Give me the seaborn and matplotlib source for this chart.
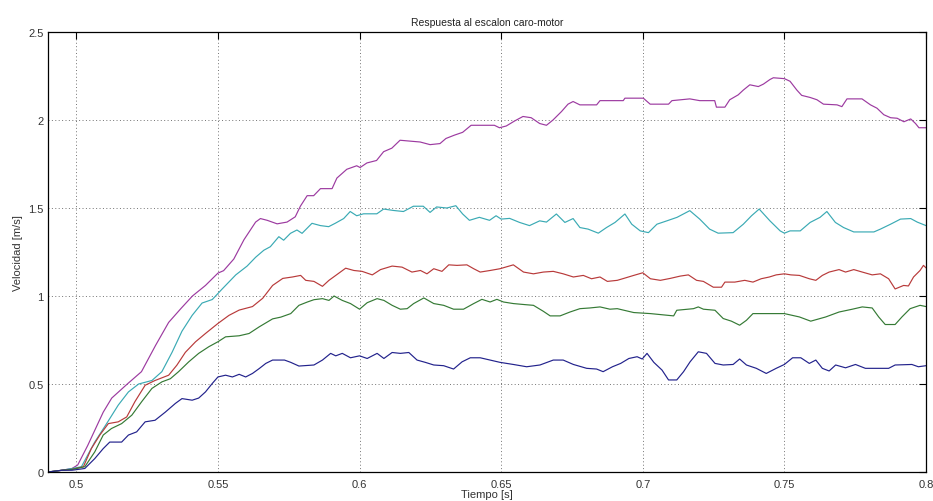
import numpy as np
import pandas as pd
import matplotlib
matplotlib.use("Agg")
import matplotlib.pyplot as plt
import seaborn as sns

# Step responses of the cart-motor for five input levels (time in s, speed in m/s)
t_m = [0.490, 0.495, 0.4985, 0.5005, 0.504, 0.5095, 0.5125, 0.518, 0.523, 0.528, 0.5326, 0.537,
       0.541, 0.5456, 0.550, 0.552, 0.5556, 0.5592, 0.5633, 0.565, 0.5674, 0.5709, 0.5744, 0.5773,
       0.5791, 0.5815, 0.5838, 0.5862, 0.5903, 0.592, 0.5955, 0.599, 0.6002, 0.6026, 0.606, 0.6085,
       0.6114, 0.6143, 0.6178, 0.6214, 0.6249, 0.6284, 0.6305, 0.6335, 0.6364, 0.6394, 0.6435,
       0.6476, 0.6494, 0.6518, 0.6547, 0.6577, 0.6606, 0.6636, 0.666, 0.6683, 0.6713, 0.6736,
       0.6754, 0.6778, 0.6837, 0.6849, 0.6931, 0.6937, 0.7002, 0.7026, 0.7091, 0.7103, 0.7166,
       0.7201, 0.7254, 0.726, 0.729, 0.7307, 0.7337, 0.7355, 0.7378, 0.7408, 0.7426, 0.7449,
       0.7461, 0.750, 0.752, 0.7544, 0.7561, 0.7591, 0.7615, 0.7638, 0.7686, 0.7703, 0.7721,
       0.7774, 0.7804, 0.7827, 0.7851, 0.7875, 0.7898, 0.7922, 0.7946, 0.7963, 0.7975, 0.800]
v_m = [0.00, 0.01, 0.02, 0.04, 0.15, 0.34, 0.42, 0.50, 0.57, 0.72, 0.85, 0.93,
       1.00, 1.06, 1.13, 1.144, 1.21, 1.32, 1.42, 1.44, 1.43, 1.41, 1.42, 1.45,
       1.51, 1.57, 1.57, 1.61, 1.61, 1.67, 1.72, 1.74, 1.73, 1.756, 1.77, 1.82,
       1.84, 1.885, 1.88, 1.875, 1.86, 1.866, 1.895, 1.914, 1.93, 1.97, 1.97,
       1.97, 1.956, 1.966, 1.994, 2.02, 2.013, 1.98, 1.97, 2.0, 2.048, 2.09,
       2.105, 2.086, 2.086, 2.11, 2.11, 2.124, 2.124, 2.09, 2.09, 2.11, 2.12,
       2.11, 2.11, 2.073, 2.073, 2.115, 2.143, 2.17, 2.2, 2.19, 2.204, 2.23,
       2.24, 2.235, 2.22, 2.17, 2.14, 2.128, 2.115, 2.09, 2.086, 2.076, 2.12,
       2.12, 2.086, 2.067, 2.03, 2.013, 2.01, 1.99, 2.006, 1.98, 1.956, 1.956]

t_c = [0.490, 0.495, 0.4985, 0.5018, 0.5065, 0.5107, 0.5148, 0.5184, 0.522, 0.5267, 0.5302,
       0.5338, 0.5373, 0.5409, 0.5444, 0.548, 0.5515, 0.5563, 0.5603, 0.5633, 0.5662, 0.5685,
       0.5715, 0.5732, 0.5756, 0.5779, 0.5797, 0.5832, 0.5862, 0.5891, 0.5914, 0.5944, 0.5967,
       0.599, 0.6014, 0.6061, 0.6085, 0.612, 0.6155, 0.619, 0.6225, 0.6249, 0.6272, 0.6308,
       0.634, 0.6364, 0.6388, 0.6423, 0.6459, 0.6482, 0.650, 0.653, 0.6565, 0.660, 0.6636,
       0.666, 0.6695, 0.6725, 0.6754, 0.6778, 0.6807, 0.6843, 0.6872, 0.6902, 0.6937, 0.6961,
       0.6991, 0.702, 0.705, 0.7085, 0.7121, 0.7166, 0.7201, 0.7236, 0.7266, 0.7319, 0.7355,
       0.7384, 0.7411, 0.7449, 0.7485, 0.750, 0.752, 0.7556, 0.7591, 0.7626, 0.765, 0.768,
       0.7709, 0.7745, 0.7816, 0.7839, 0.7875, 0.791, 0.7946, 0.7969, 0.800]
v_c = [0.00, 0.01, 0.02, 0.03, 0.17, 0.275, 0.38, 0.455, 0.50, 0.52, 0.57,
       0.68, 0.80, 0.89, 0.96, 0.98, 1.04, 1.12, 1.17, 1.22, 1.26, 1.28,
       1.337, 1.317, 1.356, 1.375, 1.356, 1.413, 1.40, 1.394, 1.413, 1.44, 1.48,
       1.456, 1.467, 1.467, 1.494, 1.486, 1.48, 1.51, 1.51, 1.475, 1.506, 1.50,
       1.513, 1.466, 1.43, 1.447, 1.43, 1.456, 1.437, 1.441, 1.418, 1.40, 1.427,
       1.42, 1.466, 1.418, 1.44, 1.389, 1.38, 1.357, 1.389, 1.418, 1.466, 1.408,
       1.37, 1.36, 1.408, 1.427, 1.447, 1.485, 1.437, 1.38, 1.357, 1.36, 1.408,
       1.456, 1.494, 1.427, 1.37, 1.357, 1.37, 1.37, 1.418, 1.447, 1.48, 1.418,
       1.389, 1.364, 1.364, 1.38, 1.408, 1.437, 1.44, 1.42, 1.40]

t_r = [0.490, 0.495, 0.4985, 0.5025, 0.5053, 0.5083, 0.5113, 0.5148, 0.5178, 0.5207, 0.5243,
       0.5278, 0.5326, 0.5355, 0.5385, 0.5421, 0.5456, 0.550, 0.5539, 0.5575, 0.5622, 0.5658,
       0.5693, 0.5729, 0.5763, 0.5792, 0.581, 0.5839, 0.5869, 0.5892, 0.5916, 0.5951, 0.598,
       0.6009, 0.6045, 0.6074, 0.6115, 0.615, 0.6185, 0.6215, 0.6238, 0.6262, 0.6291, 0.6315,
       0.6344, 0.6379, 0.6403, 0.6426, 0.6461, 0.6496, 0.6543, 0.6579, 0.6614, 0.6649, 0.6684,
       0.6719, 0.6755, 0.679, 0.6819, 0.6849, 0.6875, 0.691, 0.6933, 0.6968, 0.700, 0.7027,
       0.7062, 0.7097, 0.7132, 0.7161, 0.719, 0.7214, 0.7249, 0.7278, 0.729, 0.7325, 0.736,
       0.7389, 0.7418, 0.7447, 0.7471, 0.750, 0.7523, 0.7553, 0.7588, 0.7611, 0.7634, 0.7658,
       0.7693, 0.7716, 0.7745, 0.7775, 0.781, 0.7839, 0.7868, 0.7891, 0.7921, 0.7938, 0.7956,
       0.7979, 0.7991, 0.800]
v_r = [0.00, 0.01, 0.015, 0.03, 0.133, 0.21, 0.275, 0.285, 0.313, 0.40, 0.493,
       0.52, 0.55, 0.607, 0.68, 0.74, 0.787, 0.844, 0.89, 0.92, 0.94, 0.987,
       1.06, 1.10, 1.108, 1.117, 1.089, 1.083, 1.055, 1.089, 1.117, 1.158, 1.145,
       1.14, 1.12, 1.15, 1.17, 1.164, 1.136, 1.145, 1.126, 1.155, 1.14, 1.177,
       1.174, 1.177, 1.155, 1.136, 1.145, 1.155, 1.177, 1.136, 1.126, 1.136, 1.14,
       1.126, 1.108, 1.117, 1.098, 1.108, 1.083, 1.089, 1.10, 1.117, 1.132, 1.098,
       1.089, 1.10, 1.113, 1.12, 1.089, 1.083, 1.05, 1.05, 1.079, 1.079, 1.089,
       1.079, 1.098, 1.108, 1.12, 1.126, 1.12, 1.117, 1.098, 1.089, 1.117, 1.136,
       1.15, 1.136, 1.15, 1.136, 1.12, 1.126, 1.098, 1.04, 1.06, 1.057, 1.108,
       1.145, 1.174, 1.16]

t_g = [0.490, 0.495, 0.4985, 0.503, 0.5065, 0.5095, 0.5124, 0.516, 0.5196, 0.5231, 0.5267,
       0.5302, 0.5332, 0.5361, 0.5397, 0.5432, 0.5468, 0.550, 0.5527, 0.5575, 0.561, 0.5646,
       0.5693, 0.5722, 0.5757, 0.5786, 0.5816, 0.5839, 0.5869, 0.5892, 0.591, 0.5939, 0.5968,
       0.600, 0.6027, 0.6062, 0.6086, 0.6115, 0.6144, 0.6168, 0.6191, 0.6227, 0.6262, 0.6297,
       0.6332, 0.6367, 0.6403, 0.6432, 0.6461, 0.6485, 0.6508, 0.6543, 0.6584, 0.6614, 0.6649,
       0.6673, 0.6708, 0.6743, 0.6778, 0.6813, 0.6849, 0.6884, 0.691, 0.6968, 0.7027, 0.7109,
       0.712, 0.7179, 0.7196, 0.7214, 0.7255, 0.7284, 0.7313, 0.7342, 0.7366, 0.7389, 0.7436,
       0.750, 0.7553, 0.7593, 0.7646, 0.7693, 0.774, 0.7775, 0.781, 0.7833, 0.7856, 0.7891,
       0.7915, 0.7944, 0.7979, 0.800]
v_g = [0.00, 0.01, 0.015, 0.03, 0.114, 0.21, 0.247, 0.275, 0.323, 0.40, 0.475,
       0.512, 0.53, 0.57, 0.626, 0.674, 0.712, 0.74, 0.768, 0.774, 0.787, 0.825,
       0.87, 0.88, 0.90, 0.947, 0.966, 0.979, 0.985, 0.975, 1.0, 0.975, 0.957,
       0.925, 0.962, 0.985, 0.975, 0.947, 0.925, 0.928, 0.957, 0.989, 0.957, 0.947,
       0.925, 0.925, 0.957, 0.981, 0.966, 0.981, 0.966, 0.957, 0.951, 0.947, 0.913,
       0.887, 0.887, 0.909, 0.928, 0.932, 0.938, 0.925, 0.928, 0.906, 0.90, 0.887,
       0.919, 0.928, 0.938, 0.925, 0.919, 0.872, 0.857, 0.834, 0.862, 0.90, 0.90,
       0.90, 0.881, 0.857, 0.881, 0.909, 0.925, 0.938, 0.932, 0.881, 0.838, 0.838,
       0.881, 0.928, 0.947, 0.94]

t_b = [0.490, 0.495, 0.4985, 0.503, 0.5065, 0.5095, 0.5118, 0.516, 0.5184, 0.5213, 0.5243,
       0.5278, 0.5314, 0.535, 0.5373, 0.5409, 0.5432, 0.5456, 0.548, 0.550, 0.5527, 0.5551,
       0.5575, 0.5598, 0.5622, 0.5646, 0.5669, 0.5693, 0.5735, 0.5757, 0.5786, 0.5839, 0.5869,
       0.5898, 0.5916, 0.5939, 0.5968, 0.600, 0.6027, 0.6062, 0.6086, 0.6115, 0.6144, 0.6174,
       0.6203, 0.6232, 0.6262, 0.6297, 0.6332, 0.6362, 0.6391, 0.6426, 0.6461, 0.6496, 0.6543,
       0.659, 0.6637, 0.6684, 0.6719, 0.6755, 0.6802, 0.6837, 0.686, 0.6893, 0.6922, 0.6951,
       0.698, 0.6998, 0.7015, 0.7039, 0.7068, 0.7091, 0.712, 0.7144, 0.7167, 0.7196, 0.7225,
       0.7255, 0.7284, 0.7319, 0.7342, 0.7366, 0.7401, 0.7436, 0.7471, 0.750, 0.7529, 0.7558,
       0.7588, 0.7611, 0.7634, 0.7658, 0.7681, 0.7716, 0.7751, 0.7786, 0.7868, 0.7891, 0.795,
       0.7973, 0.800]
v_b = [0.00, 0.01, 0.01, 0.02, 0.076, 0.133, 0.17, 0.17, 0.21, 0.228, 0.285,
       0.294, 0.34, 0.39, 0.417, 0.408, 0.42, 0.455, 0.503, 0.54, 0.55, 0.54,
       0.555, 0.54, 0.56, 0.588, 0.617, 0.636, 0.636, 0.623, 0.602, 0.608, 0.636,
       0.674, 0.66, 0.674, 0.649, 0.66, 0.645, 0.674, 0.645, 0.679, 0.674, 0.679,
       0.636, 0.623, 0.608, 0.604, 0.585, 0.626, 0.649, 0.649, 0.636, 0.623, 0.611,
       0.598, 0.608, 0.636, 0.636, 0.611, 0.589, 0.585, 0.57, 0.598, 0.617, 0.645,
       0.655, 0.642, 0.674, 0.623, 0.579, 0.523, 0.523, 0.57, 0.626, 0.683, 0.674,
       0.617, 0.608, 0.611, 0.642, 0.608, 0.589, 0.56, 0.589, 0.611, 0.649, 0.649,
       0.617, 0.636, 0.589, 0.574, 0.608, 0.592, 0.611, 0.589, 0.589, 0.608, 0.611,
       0.598, 0.604]

series_names = ["m", "c", "r", "g", "b"]
series_colors = ["#9c3aa0", "#3aaab4", "#b83a3a", "#357a35", "#22228c"]

x_ticks = [0.5, 0.55, 0.6, 0.65, 0.7, 0.75, 0.8]
x_tick_labels = ["0.5", "0.55", "0.6", "0.65", "0.7", "0.75", "0.8"]
y_ticks = [0, 0.5, 1, 1.5, 2, 2.5]
y_tick_labels = ["0", "0.5", "1", "1.5", "2", "2.5"]

frames = []
for name, tt, vv in zip(series_names, [t_m, t_c, t_r, t_g, t_b], [v_m, v_c, v_r, v_g, v_b]):
    frames.append(pd.DataFrame({"t": tt, "v": vv, "serie": name}))
df = pd.concat(frames, ignore_index=True)

sns.set_style("white")
plt.rcParams["font.family"] = ["Liberation Sans", "DejaVu Sans"]

fig = plt.figure(figsize=(9.33, 5.02), dpi=100)
ax = fig.add_axes([48 / 933, 1 - 473 / 502, 878 / 933, 440 / 502])

sns.lineplot(data=df, x="t", y="v", hue="serie", hue_order=series_names,
             palette=series_colors, estimator=None, sort=False, legend=False,
             linewidth=0.85, ax=ax)

ax.set_xlim(0.49, 0.8)
ax.set_ylim(0, 2.5)
ax.set_xticks(x_ticks)
ax.set_xticklabels(x_tick_labels)
ax.set_yticks(y_ticks)
ax.set_yticklabels(y_tick_labels)

ax.grid(True, linestyle=(0, (1, 2.5)), color="0.45", linewidth=0.7)
ax.set_axisbelow(True)
for sp in ax.spines.values():
    sp.set_visible(True)
    sp.set_color("black")
    sp.set_linewidth(0.9)

ax.tick_params(axis="both", direction="in", length=5, width=0.8, labelsize=8,
               top=True, right=True, colors="black", labelcolor="#333333", pad=3)
ax.tick_params(axis="x", pad=5)

ax.set_title("Respuesta al escalon caro-motor", fontsize=7.5, pad=5, color="#222222")
ax.set_xlabel("Tiempo [s]", fontsize=8, labelpad=0, color="#333333")
ax.set_ylabel("Velocidad [m/s]", fontsize=8, labelpad=4, color="#333333")

fig.savefig("out.png", dpi=100, facecolor="white")
